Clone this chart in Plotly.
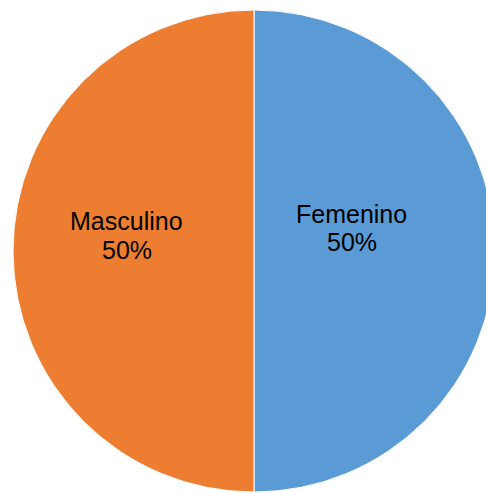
import plotly.graph_objects as go

# Data
labels = ["Femenino", "Masculino"]
values = [50, 50]
colors = ["#5B9BD5", "#ED7D31"]

# Layout geometry (pixels)
W, H = 495, 493
ML, MR, MT, MB = 13, 0, 10, 1
PW = W - ML - MR
PH = H - MT - MB

def px_x(x):
    return (x - ML) / PW

def px_y(y):
    return (H - MB - y) / PH

# label line centres (pixels) for each slice: (x, y_name, y_pct)
label_pos = {
    "Femenino": (351.5, 213.5, 242.5),
    "Masculino": (126.5, 220.5, 249.5),
}

total = sum(values)
FONT = dict(family="Liberation Sans, Arial, sans-serif", size=25, color="black")

fig = go.Figure(
    go.Pie(
        labels=labels,
        values=values,
        sort=False,
        direction="clockwise",
        rotation=0,
        marker=dict(colors=colors, line=dict(color="white", width=1)),
        textinfo="none",
        hoverinfo="label+percent",
        showlegend=False,
    )
)

annotations = []
for lab, val in zip(labels, values):
    x, y1, y2 = label_pos[lab]
    pct = f"{round(100 * val / total)}%"
    for txt, yy in ((lab, y1), (pct, y2)):
        annotations.append(
            dict(
                text=txt,
                x=px_x(x),
                y=px_y(yy),
                xref="paper",
                yref="paper",
                xanchor="center",
                yanchor="middle",
                showarrow=False,
                font=FONT,
            )
        )

fig.update_layout(
    width=W,
    height=H,
    margin=dict(l=ML, r=MR, t=MT, b=MB, pad=0),
    paper_bgcolor="white",
    plot_bgcolor="white",
    annotations=annotations,
)

fig.write_html(
    "out.html",
    config={"displayModeBar": False},
    post_script="document.body.style.margin='0';document.body.style.overflow='hidden';",
)
